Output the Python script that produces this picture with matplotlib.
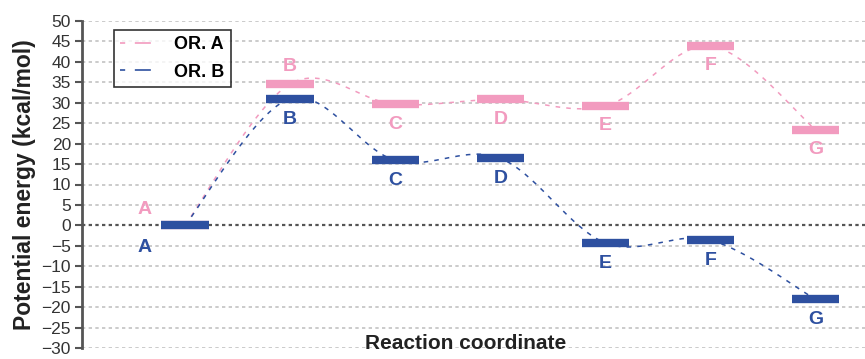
import numpy as np
import matplotlib.pyplot as plt
from matplotlib.lines import Line2D

plt.rcParams['font.family'] = ['Liberation Sans', 'DejaVu Sans']

# energy levels along the reaction path (kcal/mol)
states = ['A', 'B', 'C', 'D', 'E', 'F', 'G']
energy_a = [0.0, 34.6, 29.6, 30.8, 29.2, 43.9, 23.4]
energy_b = [0.0, 31.0, 15.9, 16.4, -4.3, -3.6, -18.1]
series_names = ['OR. A', 'OR. B']

pink = '#F29BBF'
blue = '#2E50A0'


def smooth_curve(xs, ys, n=60):
    # Catmull-Rom style cubic Bezier through every point (like a spreadsheet "smoothed line")
    pts = np.column_stack([xs, ys]).astype(float)
    out = []
    for i in range(len(pts) - 1):
        p0 = pts[i - 1] if i > 0 else pts[i]
        p1 = pts[i]
        p2 = pts[i + 1]
        p3 = pts[i + 2] if i + 2 < len(pts) else pts[i + 1]
        c1 = p1 + (p2 - p0) / 6.0
        c2 = p2 - (p3 - p1) / 6.0
        t = np.linspace(0, 1, n)[:, None]
        seg = ((1 - t) ** 3) * p1 + 3 * ((1 - t) ** 2) * t * c1 + 3 * (1 - t) * t ** 2 * c2 + t ** 3 * p2
        out.append(seg)
    out = np.vstack(out)
    return out[:, 0], out[:, 1]


fig = plt.figure(figsize=(8.65, 3.59), dpi=100)
ax = fig.add_axes([0.0948, 11 / 359, 0.9052, 327 / 359])

x = np.arange(1, len(states) + 1)

# grid lines every 5 kcal/mol, darker one at zero
for yv in range(-30, 51, 5):
    if yv == 0:
        ax.axhline(yv, color='#555555', lw=1.6, ls=(0, (1.5, 1.5)), zorder=1)
    else:
        ax.axhline(yv, color='#C2C2C2', lw=1.2, ls=(0, (2, 2)), zorder=0)

# smoothed connecting paths
for ys, col in [(energy_a, pink), (energy_b, blue)]:
    sx, sy = smooth_curve(x, ys)
    ax.plot(sx, sy, color=col, lw=1.1, ls=(0, (3, 4)), zorder=2)

# energy level bars
half = 0.225
ax.hlines(energy_a, x - half, x + half, colors=pink, lw=6.0, zorder=3)
ax.hlines(energy_b, x - half, x + half, colors=blue, lw=6.0, zorder=4)

# state labels
for i, s in enumerate(states):
    xa, xb = x[i], x[i]
    ya = energy_a[i] - 4.8
    yb = energy_b[i] - 5.0
    if s == 'A':
        xa = xb = x[i] - 0.38
        ya = energy_a[i] + 3.8
        yb = energy_b[i] - 5.5
    elif s == 'B':
        ya = energy_a[i] + 4.2
    ax.text(xa, ya, s, color=pink, fontsize=14, fontweight='bold', ha='center', va='center', zorder=5)
    ax.text(xb, yb, s, color=blue, fontsize=14, fontweight='bold', ha='center', va='center', zorder=5)

ax.set_xlim(0.02, 7.47)
ax.set_ylim(-30, 50)
ax.set_yticks(range(-30, 51, 5))
ax.set_xticks([])
ax.tick_params(axis='y', direction='out', length=5, width=1.5, color='#555555',
               labelsize=12.5, labelcolor='#333333', pad=3)

for side in ['top', 'right', 'bottom']:
    ax.spines[side].set_visible(False)
ax.spines['left'].set_color('#555555')
ax.spines['left'].set_linewidth(2)

ax.set_ylabel('Potential energy (kcal/mol)', fontsize=16.5, fontweight='bold', color='#222222', labelpad=4)
ax.set_xlabel('Reaction coordinate', fontsize=15, fontweight='bold', color='#222222', va='center')
ax.xaxis.set_label_coords(0.49, 0.015)

handles = [Line2D([], [], color=pink, lw=1.2, ls=(6.5, (9.6, 5.8))),
           Line2D([], [], color=blue, lw=1.2, ls=(6.5, (9.6, 5.8)))]
leg = ax.legend(handles, series_names, loc='upper left', bbox_to_anchor=(0.036, 0.985),
                frameon=True, fancybox=False, edgecolor='black',
                prop={'weight': 'bold', 'size': 13}, handlelength=2.2, borderpad=0.35,
                labelspacing=0.6, handletextpad=0.8, borderaxespad=0.2)
leg.get_frame().set_linewidth(1.2)

fig.savefig('out.png', dpi=100)
